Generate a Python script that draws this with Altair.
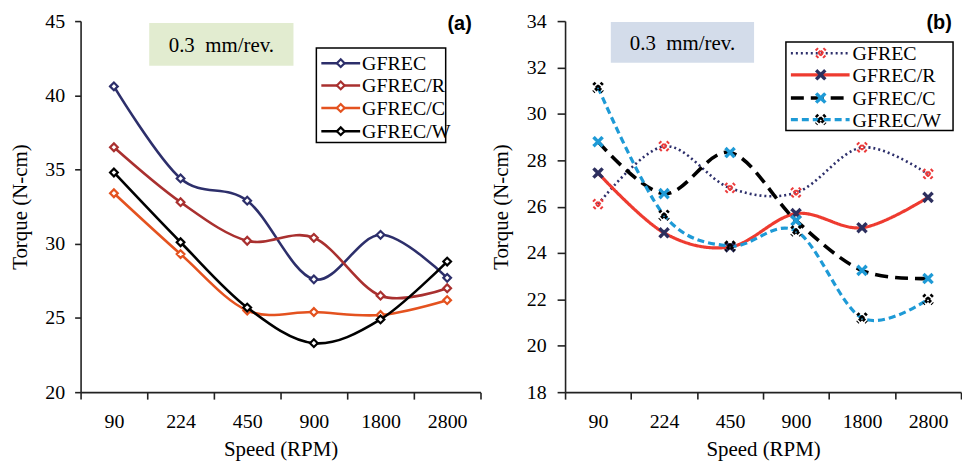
import altair as alt
import pandas as pd

speeds = ["90", "224", "450", "900", "1800", "2800"]
series = ["GFREC", "GFREC/R", "GFREC/C", "GFREC/W"]

# Panel (a) torque values (N-cm)
a_gfrec = [40.6, 34.4, 32.9, 27.6, 30.6, 27.7]
a_gfrec_r = [36.5, 32.8, 30.2, 30.4, 26.5, 27.0]
a_gfrec_c = [33.4, 29.3, 25.5, 25.4, 25.2, 26.2]
a_gfrec_w = [34.8, 30.1, 25.7, 23.3, 24.9, 28.8]

# Panel (b) torque values (N-cm)
b_gfrec = [26.1, 28.6, 26.8, 26.6, 28.55, 27.4]
b_gfrec_r = [27.45, 24.87, 24.26, 25.7, 25.09, 26.4]
b_gfrec_c = [28.8, 26.56, 28.33, 25.4, 23.25, 22.9]
b_gfrec_w = [31.14, 25.63, 24.3, 24.95, 21.2, 22.0]

SERIF = "Liberation Serif"
SANS = "Liberation Sans"
BOX_TEXT = "0.3\u00a0 mm/rev."


def long_df(vals):
    rows = []
    for s, v in zip(series, vals):
        for sp, t in zip(speeds, v):
            rows.append({"speed": sp, "series": s, "torque": t})
    return pd.DataFrame(rows)


df_a = long_df([a_gfrec, a_gfrec_r, a_gfrec_c, a_gfrec_w])
df_b = long_df([b_gfrec, b_gfrec_r, b_gfrec_c, b_gfrec_w])
one = pd.DataFrame({"k": [0]})

X_MARK = "M-1,-1L1,1M1,-1L-1,1"


def xenc():
    return alt.X(
        "speed:N",
        sort=speeds,
        scale=alt.Scale(type="band", domain=speeds, paddingInner=0, paddingOuter=0),
        axis=alt.Axis(title="Speed (RPM)", tickBand="extent", labelAngle=0,
                      labelPadding=13, titlePadding=7, tickSize=7),
    )


def yenc(dom, vals, label_pad, title_pad, tick_size):
    return alt.Y(
        "torque:Q",
        scale=alt.Scale(domain=dom, nice=False, zero=False),
        axis=alt.Axis(title="Torque (N-cm)", values=vals, grid=False,
                      labelPadding=label_pad, titlePadding=title_pad, tickSize=tick_size),
    )


def deco_rect(x1, x2, y1, y2, fill, stroke=None, sw=0):
    kw = dict(fill=fill)
    if stroke:
        kw.update(stroke=stroke, strokeWidth=sw)
    return alt.Chart(one).mark_rect(**kw).encode(
        x=alt.value(x1), x2=alt.value(x2), y=alt.value(y1), y2=alt.value(y2))


def deco_text(txt, x, y, font, size, weight="normal", align="left"):
    return alt.Chart(one).mark_text(text=txt, font=font, fontSize=size, fontWeight=weight,
                                    align=align, baseline="middle", color="black").encode(
        x=alt.value(x), y=alt.value(y))


# ---------- panel (a) ----------
a_colors = {"GFREC": "#2d2f6b", "GFREC/R": "#a9302f", "GFREC/C": "#e4521f", "GFREC/W": "#000000"}
xa = xenc()
ya = yenc([20, 45], [20, 25, 30, 35, 40, 45], 10, 14, 6)

layers_a = [
    deco_rect(69, 214, 2, 45, "#e2ecd0"),
    deco_text(BOX_TEXT, 141.5, 25, SERIF, 21, align="center"),
]
for s in series:
    base = alt.Chart(df_a).transform_filter(alt.datum.series == s)
    layers_a.append(base.mark_line(interpolate="cardinal", color=a_colors[s], strokeWidth=2.6)
                    .encode(x=xa, y=ya))
    layers_a.append(base.mark_point(shape="diamond", filled=True, fill="white", stroke=a_colors[s],
                                    strokeWidth=2.2, size=60, opacity=1).encode(x=xa, y=ya))

layers_a.append(deco_rect(237, 367, 27, 122, "white", "black", 1.5))
leg_a_y = [42.3, 64.7, 87.3, 110.7]
for s, ly in zip(series, leg_a_y):
    layers_a.append(alt.Chart(one).mark_rule(color=a_colors[s], strokeWidth=2.6).encode(
        x=alt.value(242), x2=alt.value(281), y=alt.value(ly)))
    layers_a.append(alt.Chart(one).mark_point(shape="diamond", filled=True, fill="white",
                                              stroke=a_colors[s], strokeWidth=2.2, size=60, opacity=1)
                    .encode(x=alt.value(261.5), y=alt.value(ly)))
    layers_a.append(deco_text(s, 283, ly + 1, SERIF, 20))
layers_a.append(deco_text("(a)", 381, 3, SANS, 20, weight="bold", align="center"))

panel_a = alt.layer(*layers_a).properties(width=402, height=373)

# ---------- panel (b) ----------
b_line = {"GFREC": "#2d2f6b", "GFREC/R": "#ee3b30", "GFREC/C": "#000000", "GFREC/W": "#1e9ad6"}
b_mark = {"GFREC": "#ec3a3a", "GFREC/R": "#2d2f5e", "GFREC/C": "#1e9ad6", "GFREC/W": "#000000"}
b_dash = {"GFREC": [2, 3], "GFREC/R": [1, 0], "GFREC/C": [13, 7], "GFREC/W": [7, 4]}
b_lw = {"GFREC": 2.6, "GFREC/R": 3.2, "GFREC/C": 3.6, "GFREC/W": 3.2}
b_mdash = {"GFREC": [2, 1.5], "GFREC/R": [1, 0], "GFREC/C": [1, 0], "GFREC/W": [2.5, 1.5]}

xb = xenc()
yb = yenc([18, 34], [18, 20, 22, 24, 26, 28, 30, 32, 34], 11, 15, 8)

layers_b = [
    deco_rect(46, 190, 1, 42, "#d3dcea"),
    deco_text(BOX_TEXT, 118, 23, SERIF, 21, align="center"),
]
for s in series:
    base = alt.Chart(df_b).transform_filter(alt.datum.series == s)
    layers_b.append(base.mark_line(interpolate="cardinal", color=b_line[s], strokeWidth=b_lw[s],
                                   strokeDash=b_dash[s]).encode(x=xb, y=yb))
for s in series:
    base = alt.Chart(df_b).transform_filter(alt.datum.series == s)
    layers_b.append(base.mark_point(shape=X_MARK, filled=False, stroke=b_mark[s], strokeWidth=3.4,
                                    strokeDash=b_mdash[s], size=85, opacity=1).encode(x=xb, y=yb))

layers_b.append(deco_rect(222, 390, 21, 110, "white", "black", 1.5))
leg_b_y = [32.3, 54, 77.3, 99]
for s, ly in zip(series, leg_b_y):
    layers_b.append(alt.Chart(one).mark_rule(color=b_line[s], strokeWidth=b_lw[s],
                                             strokeDash=b_dash[s]).encode(
        x=alt.value(227), x2=alt.value(286), y=alt.value(ly)))
    layers_b.append(alt.Chart(one).mark_point(shape=X_MARK, filled=False, stroke=b_mark[s],
                                              strokeWidth=3.4, strokeDash=b_mdash[s], size=85,
                                              opacity=1)
                    .encode(x=alt.value(257), y=alt.value(ly)))
    layers_b.append(deco_text(s, 289, ly + 1, SERIF, 20))
layers_b.append(deco_text("(b)", 376, 2, SANS, 20, weight="bold", align="center"))

panel_b = alt.layer(*layers_b).properties(width=398, height=373)

chart = (
    alt.hconcat(panel_a, panel_b, spacing=85, bounds="flush")
    .properties(padding={"left": 10, "top": 10, "right": 0, "bottom": 0})
    .configure_view(stroke=None)
    .configure_axis(
        domainColor="#222222", domainWidth=1.6, tickColor="#222222", tickWidth=1.6,
        labelFont=SERIF, labelFontSize=20, labelColor="black",
        titleFont=SERIF, titleFontSize=21, titleFontWeight="normal", titleColor="black",
    )
)

chart.save("out.html", embed_options={"renderer": "svg", "actions": False})
